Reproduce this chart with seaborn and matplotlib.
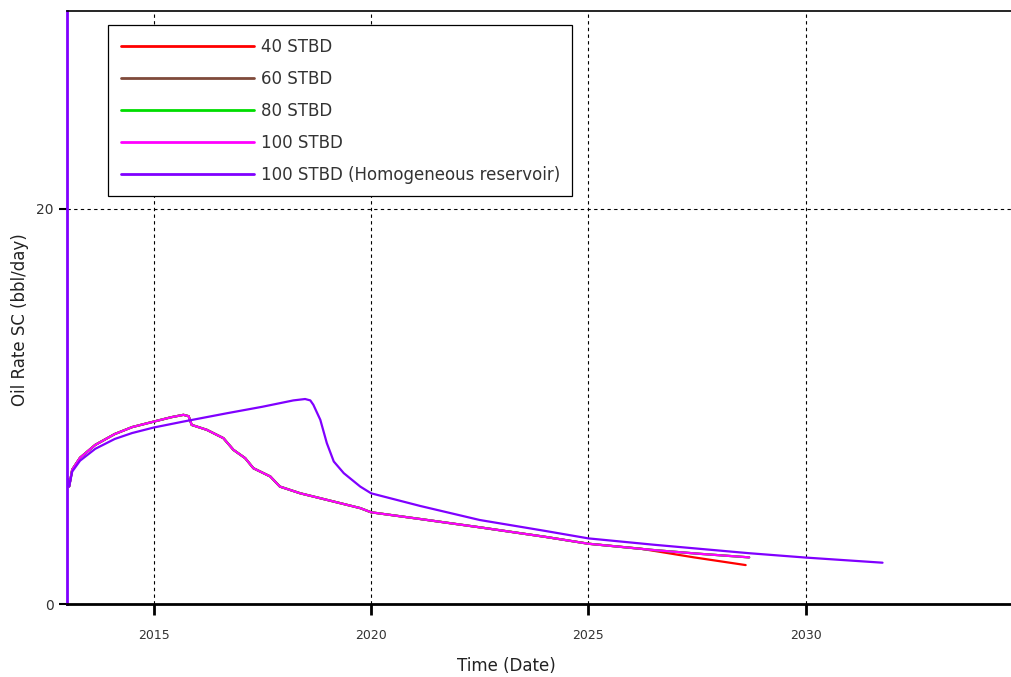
"""
Oil rate vs time for different injection rates.
"""

import matplotlib
matplotlib.use("Agg")
import matplotlib.pyplot as plt
import pandas as pd
import seaborn as sns

# values (time in decimal years, rate in bbl/day)
t_100 = [2013.02, 2013.05, 2013.12, 2013.3, 2013.65, 2014.1, 2014.5, 2015.0, 2015.4,
         2015.68, 2015.8, 2015.87, 2016.22, 2016.6, 2016.83, 2017.1, 2017.29, 2017.68,
         2017.9, 2018.37, 2018.98, 2019.75, 2020.0, 2021.13, 2022.5, 2024.0, 2025.0,
         2026.5, 2027.5, 2028.7]
q_100 = [6.3, 5.95, 6.8, 7.4, 8.05, 8.6, 8.95, 9.23, 9.45,
         9.57, 9.5, 9.06, 8.81, 8.39, 7.8, 7.38, 6.87, 6.45,
         5.94, 5.6, 5.27, 4.85, 4.64, 4.3, 3.88, 3.4, 3.05,
         2.73, 2.55, 2.36]

t_40 = [2013.02, 2013.05, 2013.12, 2013.3, 2013.65, 2014.1, 2014.5, 2015.0, 2015.4,
        2015.68, 2015.8, 2015.87, 2016.22, 2016.6, 2016.83, 2017.1, 2017.29, 2017.68,
        2017.9, 2018.37, 2018.98, 2019.75, 2020.0, 2021.13, 2022.5, 2024.0, 2025.0,
        2026.2, 2027.43, 2028.62]
q_40 = [6.3, 5.95, 6.8, 7.4, 8.05, 8.6, 8.95, 9.23, 9.45,
        9.57, 9.5, 9.06, 8.81, 8.39, 7.8, 7.38, 6.87, 6.45,
        5.94, 5.6, 5.27, 4.85, 4.64, 4.3, 3.88, 3.4, 3.05,
        2.8, 2.36, 1.97]

# 60 and 80 STBD lie under the 100 STBD curve in the picture
t_60, q_60 = t_100, q_100
t_80, q_80 = t_100, q_100

t_homo = [2013.02, 2013.05, 2013.12, 2013.3, 2013.65, 2014.1, 2014.5, 2015.0, 2015.68,
          2016.68, 2017.5, 2018.21, 2018.48, 2018.6, 2018.67, 2018.83, 2018.98, 2019.14,
          2019.37, 2019.75, 2020.0, 2021.13, 2022.5, 2024.0, 2025.0, 2026.5, 2028.7,
          2030.0, 2031.77]
q_homo = [6.3, 5.95, 6.7, 7.25, 7.85, 8.35, 8.65, 8.93, 9.23,
          9.65, 9.98, 10.3, 10.37, 10.3, 10.08, 9.32, 8.14, 7.21,
          6.62, 5.94, 5.6, 4.96, 4.25, 3.7, 3.32, 3.0, 2.57,
          2.35, 2.09]

labels = ["40 STBD", "60 STBD", "80 STBD", "100 STBD", "100 STBD (Homogeneous reservoir)"]
colors = ["#ff0000", "#7f4a3a", "#00dd00", "#ff00ff", "#8000ff"]
year_ticks = [2015, 2020, 2025, 2030]
rate_ticks = [0, 20]

series = [(t_40, q_40), (t_60, q_60), (t_80, q_80), (t_100, q_100), (t_homo, q_homo)]
frames = []
for name, (t, q) in zip(labels, series):
    frames.append(pd.DataFrame({"time": t, "rate": q, "case": name}))
df = pd.concat(frames, ignore_index=True)

sns.set_style("white")
plt.rcParams["font.family"] = ["DejaVu Sans"]

fig = plt.figure(figsize=(10.12, 6.77), dpi=100)
ax = fig.add_axes([0.0662, 0.1078, 0.9338, 0.876])

sns.lineplot(data=df, x="time", y="rate", hue="case", hue_order=labels,
             palette=dict(zip(labels, colors)), linewidth=1.6, estimator=None,
             sort=False, ax=ax)

ax.set_xlim(2013.0, 2034.75)
ax.set_ylim(0, 30)
ax.set_xticks(year_ticks)
ax.set_xticklabels([str(y) for y in year_ticks])
ax.set_yticks(rate_ticks)

ax.grid(True, color="black", linestyle=(0, (3, 3)), linewidth=0.8)
ax.set_axisbelow(True)

ax.spines["right"].set_visible(False)
ax.spines["top"].set_color("black")
ax.spines["top"].set_linewidth(1.2)
ax.spines["bottom"].set_color("black")
ax.spines["bottom"].set_linewidth(2)
ax.spines["left"].set_color("#8000ff")
ax.spines["left"].set_linewidth(2)

ax.tick_params(axis="x", direction="out", length=8, width=2, color="black",
               labelsize=9, labelcolor="#333333", pad=10, bottom=True)
ax.tick_params(axis="y", direction="out", length=6, width=1.5, color="black",
               labelsize=10, labelcolor="#333333", left=True)

ax.set_xlabel("Time (Date)", fontsize=12, color="#222222")
ax.xaxis.set_label_coords(0.465, -0.09)
ax.set_ylabel("Oil Rate SC (bbl/day)", fontsize=12, color="#222222")
ax.yaxis.set_label_coords(-0.04, 0.48)

leg = ax.legend(loc="upper left", bbox_to_anchor=(0.0434, 0.976), borderaxespad=0,
                fontsize=12, handlelength=8.0, labelspacing=0.84, fancybox=False,
                frameon=True, framealpha=1, edgecolor="black", borderpad=0.75,
                handletextpad=0.4, title=None)
leg.get_frame().set_linewidth(0.9)
for line in leg.get_lines():
    line.set_linewidth(2)
for text in leg.get_texts():
    text.set_color("#333333")

fig.savefig("out.png", dpi=100)
